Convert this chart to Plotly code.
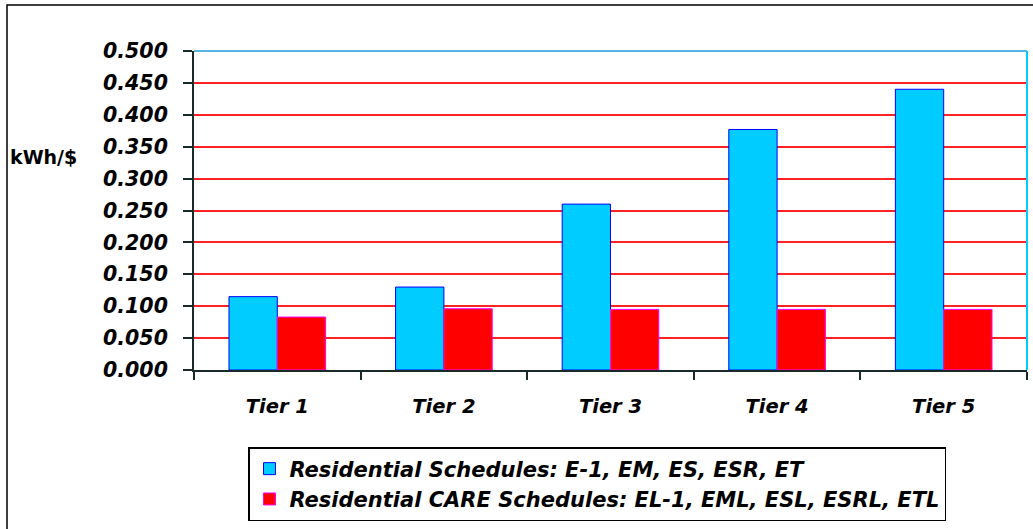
import plotly.graph_objects as go

categories = ["Tier 1", "Tier 2", "Tier 3", "Tier 4", "Tier 5"]
residential = [0.115, 0.130, 0.260, 0.377, 0.440]
care = [0.083, 0.096, 0.095, 0.095, 0.095]
series_names = [
    "Residential Schedules: E-1, EM, ES, ESR, ET",
    "Residential CARE Schedules: EL-1, EML, ESL, ESRL, ETL",
]
y_label = "kWh/$"

W, H = 1033, 529
L, R, T, B = 194, 6, 51, 159
pw, ph = W - L - R, H - T - B

def px_x(p):
    return (p - L) / pw

def px_y(p):
    return (H - B - p) / ph

FONT = "DejaVu Sans"

fig = go.Figure()
fig.add_trace(go.Bar(
    x=categories, y=residential, name=series_names[0], legendgroup="a",
    marker=dict(color="#00ccff", line=dict(color="#0000ff", width=1)),
))
fig.add_trace(go.Bar(
    x=categories, y=care, name=series_names[1], legendgroup="b",
    marker=dict(color="#ff0000", line=dict(color="#ff00ff", width=1)),
))

fig.update_layout(
    width=W, height=H,
    margin=dict(l=L, r=R, t=T, b=B),
    paper_bgcolor="white", plot_bgcolor="white",
    barmode="group", bargap=0.42, bargroupgap=0,
    font=dict(family=FONT, color="black"),
    showlegend=True,
    legend=dict(
        x=px_x(248), y=px_y(447), xanchor="left", yanchor="top",
        bgcolor="white", bordercolor="black", borderwidth=1.5,
        font=dict(family=FONT, size=21, color="black", weight="bold", style="italic"),
        itemwidth=30, tracegroupgap=0, traceorder="grouped",
    ),
    xaxis=dict(
        showline=True, linecolor="#1a2a2a", linewidth=2,
        ticks="outside", ticklen=8, tickwidth=2, tickcolor="#1a2a2a",
        tickson="boundaries", showgrid=False,
        tickfont=dict(family=FONT, size=19.5, color="black", weight="bold", style="italic"),
        ticklabelstandoff=18,
    ),
    yaxis=dict(
        range=[0, 0.5], dtick=0.05, tickformat=".3f",
        showline=True, linecolor="#1a2a2a", linewidth=2,
        ticks="outside", ticklen=9, tickwidth=2, tickcolor="#1a2a2a",
        showgrid=True, gridcolor="#ff2222", gridwidth=1.5,
        zeroline=False,
        tickfont=dict(family=FONT, size=20.5, color="black", weight="bold", style="italic"),
        ticklabelstandoff=11,
    ),
    annotations=[dict(
        text=y_label, xref="paper", yref="paper",
        x=px_x(43), y=px_y(157), xanchor="center", yanchor="middle",
        showarrow=False,
        font=dict(family=FONT, size=19, color="black", weight="bold"),
    )],
    shapes=[
        dict(type="line", xref="paper", yref="paper", x0=0, x1=1, y0=1, y1=1,
             line=dict(color="#55b4e6", width=2), layer="above"),
        dict(type="line", xref="paper", yref="paper", x0=1, x1=1, y0=0, y1=1,
             line=dict(color="#00ccff", width=2), layer="above"),
        dict(type="rect", xref="paper", yref="paper",
             x0=px_x(7), x1=px_x(W + 20), y0=px_y(H + 20), y1=px_y(5),
             line=dict(color="black", width=1.5), fillcolor="rgba(0,0,0,0)", layer="below"),
    ],
)

fig.write_html(
    "out.html",
    config={"displayModeBar": False},
    post_script="document.body.style.margin='0';document.body.style.overflow='hidden';",
)
